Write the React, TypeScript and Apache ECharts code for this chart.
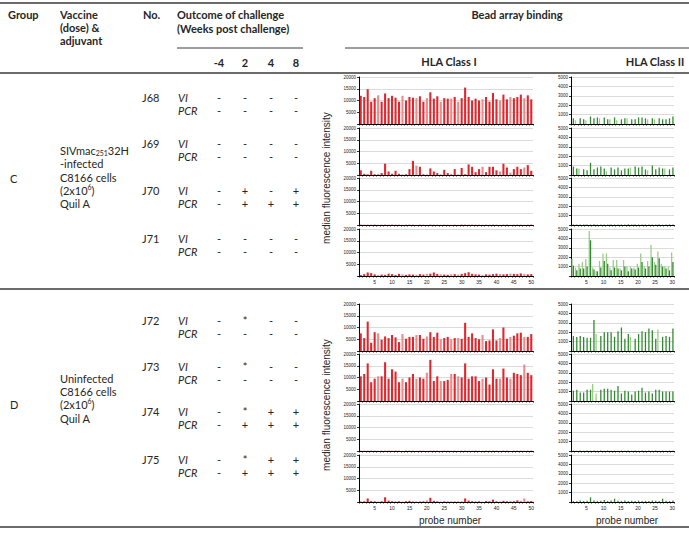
import React, { useEffect, useRef } from "react";
import * as echarts from "echarts";

// ---------- DATA ----------
const probesI = ["1","2","3","4","5","6","7","8","9","10","11","12","13","14","15","16","17","18","19","20","21","22","23","24","25","26","27","28","29","30","31","32","33","34","35","36","37","38","39","40","41","42","43","44","45","46","47","48","49","50"];
const probesII = ["1","2","3","4","5","6","7","8","9","10","11","12","13","14","15","16","17","18","19","20","21","22","23","24","25","26","27","28","29","30"];
// probes of Class I shown in the lighter shade
const lightProbesI = [6, 13, 17, 20, 24, 27, 29, 36, 41, 44, 48];

const animals = ["J68", "J69", "J70", "J71", "J72", "J73", "J74", "J75"];
const weeks = ["-4", "2", "4", "8"];
const viResults = [
  ["-", "-", "-", "-"],
  ["-", "-", "-", "-"],
  ["-", "+", "-", "+"],
  ["-", "-", "-", "-"],
  ["-", "*", "-", "-"],
  ["-", "*", "-", "-"],
  ["-", "*", "+", "+"],
  ["-", "*", "+", "+"],
];
const pcrResults = [
  ["-", "-", "-", "-"],
  ["-", "-", "-", "-"],
  ["-", "+", "+", "+"],
  ["-", "-", "-", "-"],
  ["-", "-", "-", "-"],
  ["-", "-", "-", "-"],
  ["-", "+", "+", "+"],
  ["-", "+", "+", "+"],
];

// HLA Class I median fluorescence intensity
const j68I = [12000,11500,14800,9500,11000,12200,9500,13000,11000,12000,11200,9500,12000,10000,11500,11200,11000,11800,9500,11000,13500,10800,11800,9500,11000,10800,10800,11500,9500,11000,15500,11500,10000,10800,10000,10500,11500,9500,13200,10500,10000,12500,10500,11500,11000,11500,12500,11000,12200,10500];
const j69I = [2000,500,300,1800,300,500,800,4800,1500,500,1800,500,300,300,2500,6000,4000,3500,300,300,2800,1500,800,300,2200,800,500,2500,300,3000,300,4500,3500,1200,2500,3500,1200,3500,3500,2000,1500,4800,3200,1000,2500,3500,2500,3200,4200,1800];
const j70I = [150,100,120,100,150,120,100,130,100,150,120,100,110,100,140,120,100,130,110,100,150,120,100,110,130,100,120,110,100,150,130,100,120,110,100,140,120,100,130,110,100,120,140,100,110,130,100,120,110,150];
const j71I = [400,800,1500,1200,700,400,600,500,1000,800,400,900,700,500,700,600,500,800,600,900,1000,1500,900,700,600,500,700,800,600,900,1200,1600,900,700,600,500,700,600,800,1000,900,700,800,1000,900,800,1100,900,700,800];
const j72I = [7500,5500,12500,3500,8000,7500,4800,6200,5500,6800,5800,3800,7200,5200,6000,6000,6800,6800,5200,6200,8000,6000,7800,5000,5500,6000,5000,5500,5500,5200,12000,6000,7500,5500,5000,6800,4200,4500,9200,4500,5500,10000,5200,6000,6500,7500,7800,6000,6000,7200];
const j73I = [10500,11500,16000,8000,9500,10500,10500,16500,9500,13500,12500,8000,9500,8000,10000,11500,9500,10000,9500,12000,17500,8500,10500,8500,8500,9000,11500,11500,10500,10000,16000,9500,10500,10500,8500,9500,10000,7000,13500,9500,9500,13800,10000,9500,12000,11500,11000,15500,12000,11000];
const j74I = [120,100,110,130,100,120,110,100,140,100,120,110,100,130,100,110,120,100,110,130,100,120,110,100,140,100,120,110,100,130,120,100,110,120,100,130,110,100,120,110,100,130,120,100,110,120,100,130,110,120];
const j75I = [200,300,1500,400,300,200,300,2000,600,300,200,300,200,300,500,200,300,200,300,700,1800,500,300,200,300,200,300,200,300,200,1500,600,300,200,300,200,400,300,1000,300,200,500,300,400,300,700,300,1500,300,400];

// HLA Class II median fluorescence intensity (light and dark bars)
const j68IILight = [0,400,0,0,400,0,0,0,600,0,0,500,0,400,0,0,600,0,0,0,0,0,500,0,500,0,0,0,0,0];
const j68IIDark = [600,0,600,500,0,800,600,700,0,700,500,0,700,0,500,600,0,500,500,700,700,600,0,600,0,600,500,500,600,800];
const j69IILight = [0,0,700,0,0,0,0,0,0,0,400,0,0,0,0,0,0,800,0,0,0,0,500,0,0,0,0,700,0,0];
const j69IIDark = [900,700,0,600,500,1300,600,800,900,700,0,800,600,800,500,700,700,0,900,800,900,600,0,1000,600,800,700,0,600,800];
const j70IILight = [0,30,0,0,40,0,0,30,0,0,0,40,0,0,30,0,0,0,40,0,0,30,0,0,0,40,0,0,30,0];
const j70IIDark = [60,40,50,60,40,50,70,40,50,60,40,50,60,40,50,60,70,40,50,60,40,50,60,40,50,60,40,50,60,50];
const j71IILight = [1800,900,1300,1500,1800,4800,900,500,1600,2400,2400,900,1700,1700,800,1700,1000,1000,900,1300,2400,1000,1600,3300,1500,2600,1300,1000,1000,2500];
const j71IIDark = [1100,600,800,800,1000,3800,700,500,900,1600,1300,600,900,800,600,1000,500,800,700,900,1500,800,1000,2000,1200,1900,1000,800,600,1500];
const j72IILight = [0,0,0,0,0,0,0,1800,0,0,0,0,0,0,0,0,0,1500,0,0,0,0,0,0,0,2300,0,0,0,0];
const j72IIDark = [1600,1500,1600,1500,1400,1400,3300,0,1600,2000,2000,2000,1500,2100,2500,1300,1800,0,1300,1800,2100,2000,2400,2200,1300,0,1500,1600,1500,2400];
const j73IILight = [0,0,0,0,0,0,1800,800,0,0,0,0,0,0,0,0,0,0,0,0,0,0,0,0,0,0,0,0,0,0];
const j73IIDark = [1100,1200,900,900,1200,1200,0,0,1200,1300,1300,1200,1100,1600,800,1100,1000,700,1000,1100,1400,900,1000,800,1200,1200,1000,1000,1000,1000];
const j74IILight = [0,0,0,0,0,0,0,0,0,0,0,0,0,0,0,0,0,0,0,0,0,0,0,0,0,0,0,0,0,0];
const j74IIDark = [40,30,40,30,40,30,50,30,40,30,40,30,40,30,40,30,40,30,40,30,40,30,40,30,40,30,40,30,40,30];
const j75IILight = [0,0,0,0,0,0,0,0,0,0,0,0,0,0,0,0,0,0,0,0,0,0,0,0,0,0,0,0,0,0];
const j75IIDark = [100,80,150,100,120,500,150,100,120,200,100,150,350,120,100,150,100,120,100,150,100,120,100,150,120,100,350,120,100,150];

const classIData = [j68I, j69I, j70I, j71I, j72I, j73I, j74I, j75I];
const classIILightData = [j68IILight, j69IILight, j70IILight, j71IILight, j72IILight, j73IILight, j74IILight, j75IILight];
const classIIDarkData = [j68IIDark, j69IIDark, j70IIDark, j71IIDark, j72IIDark, j73IIDark, j74IIDark, j75IIDark];

// ---------- LAYOUT / STYLE ----------
const TF = "Lato, 'Open Sans', sans-serif";
const CF = "'Liberation Sans', Arial, sans-serif";
const panelTops = [77, 128, 178, 229, 304, 354, 404, 455];
const panelH = 47;
const rowY = [97, 143, 190, 238, 320, 366, 411, 459];
const outcomeX = [219, 245, 271, 296];
const RED = "#e3262c";
const RED_L = "#ef8a8a";
const GREEN = "#2f8a2f";
const GREEN_L = "#98cd86";

function txt(x: number, y: number, text: string, font: string, align = "left", extra: any = {}) {
  return {
    type: "text",
    x,
    y,
    silent: true,
    ...extra,
    style: {
      text,
      font,
      fill: "#262626",
      align,
      textAlign: align,
      verticalAlign: "middle",
      textVerticalAlign: "middle",
      ...(extra.style || {}),
    },
  };
}

function hline(x1: number, x2: number, y: number, w: number) {
  return {
    type: "line",
    silent: true,
    shape: { x1, y1: y, x2, y2: y },
    style: { stroke: "#3a3a3a", lineWidth: w },
  };
}

function richText(x: number, y: number, text: string) {
  return {
    type: "text",
    x,
    y,
    silent: true,
    style: {
      text,
      fill: "#262626",
      align: "left",
      textAlign: "left",
      verticalAlign: "middle",
      textVerticalAlign: "middle",
      rich: {
        n: { fontSize: 11, fontFamily: TF, fill: "#262626", color: "#262626", lineHeight: 13 },
        s: { fontSize: 7, fontFamily: TF, fill: "#262626", color: "#262626", verticalAlign: "bottom", lineHeight: 7 },
        p: { fontSize: 7, fontFamily: TF, fill: "#262626", color: "#262626", verticalAlign: "top", lineHeight: 7 },
      },
    },
  };
}

function buildOption() {
  const grid: any[] = [];
  const xAxis: any[] = [];
  const yAxis: any[] = [];
  const series: any[] = [];

  for (let i = 0; i < 8; i++) {
    const bottom = i === 3 || i === 7;
    // Class I
    const gI = grid.length;
    grid.push({ left: 359, top: panelTops[i], width: 174, height: panelH });
    xAxis.push({
      type: "category",
      gridIndex: gI,
      data: probesI,
      axisLine: { lineStyle: { color: "#000", width: 1 } },
      axisTick: { show: true, interval: 0, length: 1.5, lineStyle: { color: "#000", width: 0.8 } },
      axisLabel: {
        show: bottom,
        interval: (idx: number) => (idx + 1) % 5 === 0,
        fontSize: 5,
        fontFamily: CF,
        color: "#222",
        margin: 3,
      },
      splitLine: { show: false },
    });
    yAxis.push({
      type: "value",
      gridIndex: gI,
      min: 0,
      max: 20000,
      interval: 5000,
      axisLine: { show: true, lineStyle: { color: "#000", width: 1 } },
      axisTick: { show: true, length: 2, lineStyle: { color: "#000", width: 0.8 } },
      axisLabel: {
        fontSize: 4.5,
        fontFamily: CF,
        color: "#222",
        margin: 3,
        formatter: (v: number) => (v === 0 ? "" : String(v)),
      },
      splitLine: { lineStyle: { color: "#d2d2d2", width: 0.8 } },
    });
    series.push({
      type: "bar",
      xAxisIndex: gI,
      yAxisIndex: gI,
      data: classIData[i],
      barCategoryGap: "40%",
      itemStyle: {
        color: (p: any) => (lightProbesI.includes(p.dataIndex + 1) ? RED_L : RED),
      },
    });

    // Class II
    const gII = grid.length;
    grid.push({ left: 571, top: panelTops[i], width: 103, height: panelH });
    xAxis.push({
      type: "category",
      gridIndex: gII,
      data: probesII,
      axisLine: { lineStyle: { color: "#000", width: 1 } },
      axisTick: { show: true, interval: 0, length: 1.5, lineStyle: { color: "#000", width: 0.8 } },
      axisLabel: {
        show: bottom,
        interval: (idx: number) => (idx + 1) % 5 === 0,
        fontSize: 5,
        fontFamily: CF,
        color: "#222",
        margin: 3,
      },
      splitLine: { show: false },
    });
    yAxis.push({
      type: "value",
      gridIndex: gII,
      min: 0,
      max: 5000,
      interval: 1000,
      axisLine: { show: true, lineStyle: { color: "#000", width: 1 } },
      axisTick: { show: true, length: 2, lineStyle: { color: "#000", width: 0.8 } },
      axisLabel: {
        fontSize: 4.5,
        fontFamily: CF,
        color: "#222",
        margin: 3,
        formatter: (v: number) => (v === 0 ? "" : String(v)),
      },
      splitLine: { lineStyle: { color: "#d2d2d2", width: 0.8 } },
    });
    series.push({
      type: "bar",
      xAxisIndex: gII,
      yAxisIndex: gII,
      data: classIILightData[i],
      barGap: "0%",
      barCategoryGap: "25%",
      itemStyle: { color: GREEN_L },
    });
    series.push({
      type: "bar",
      xAxisIndex: gII,
      yAxisIndex: gII,
      data: classIIDarkData[i],
      barGap: "0%",
      barCategoryGap: "25%",
      itemStyle: { color: GREEN },
    });
  }

  const B = `bold 11px ${TF}`;
  const N = `11px ${TF}`;
  const I = `italic 11px ${TF}`;
  const graphic: any[] = [
    hline(0, 689, 3, 1.5),
    hline(177, 303, 48, 1),
    hline(345, 689, 48, 1),
    hline(0, 689, 73, 1.5),
    hline(0, 689, 289, 1.5),
    hline(0, 689, 527, 1.5),
    txt(8, 14, "Group", B),
    txt(60, 14, "Vaccine", B),
    txt(60, 27, "(dose) &", B),
    txt(60, 40, "adjuvant", B),
    txt(143, 14, "No.", B),
    txt(177, 14, "Outcome of challenge", B),
    txt(177, 28, "(Weeks post challenge)", B),
    txt(517, 14, "Bead array binding", B, "center"),
    txt(449, 61, "HLA Class I", B, "center"),
    txt(655, 61, "HLA Class II", B, "center"),
    txt(10, 178, "C", N),
    txt(10, 404, "D", N),
    richText(60, 150, "{n|SIVmac}{s|251}{n|32H}"),
    txt(60, 163, "-infected", N),
    txt(60, 177, "C8166 cells", N),
    richText(60, 190, "{n|(2x10}{p|6}{n|)}"),
    txt(60, 203, "Quil A", N),
    txt(60, 378, "Uninfected", N),
    txt(60, 391, "C8166 cells", N),
    richText(60, 404, "{n|(2x10}{p|6}{n|)}"),
    txt(60, 418, "Quil A", N),
    txt(326, 178, "median fluorescence intensity", `10px ${CF}`, "center", { rotation: Math.PI / 2 }),
    txt(326, 405, "median fluorescence intensity", `10px ${CF}`, "center", { rotation: Math.PI / 2 }),
    txt(450, 520, "probe number", `10px ${CF}`, "center"),
    txt(627, 520, "probe number", `10px ${CF}`, "center"),
  ];
  weeks.forEach((w, k) => graphic.push(txt(outcomeX[k], 62, w, B, "center")));
  animals.forEach((a, r) => {
    const y = rowY[r];
    graphic.push(txt(142, y, a, N));
    graphic.push(txt(178, y, "VI", I));
    graphic.push(txt(178, y + 13, "PCR", I));
    viResults[r].forEach((v, k) => graphic.push(txt(outcomeX[k], y, v, N, "center")));
    pcrResults[r].forEach((v, k) => graphic.push(txt(outcomeX[k], y + 13, v, N, "center")));
  });

  return { animation: false, backgroundColor: "#fff", grid, xAxis, yAxis, series, graphic };
}

export default function App() {
  const ref = useRef<HTMLDivElement>(null);
  useEffect(() => {
    if (!ref.current) return;
    const chart = echarts.init(ref.current, undefined, { renderer: "svg" });
    chart.setOption(buildOption() as any);
    return () => chart.dispose();
  }, []);
  return (
    <div
      ref={ref}
      style={{ position: "fixed", left: 0, top: 0, width: 689, height: 533, background: "#fff" }}
    />
  );
}
